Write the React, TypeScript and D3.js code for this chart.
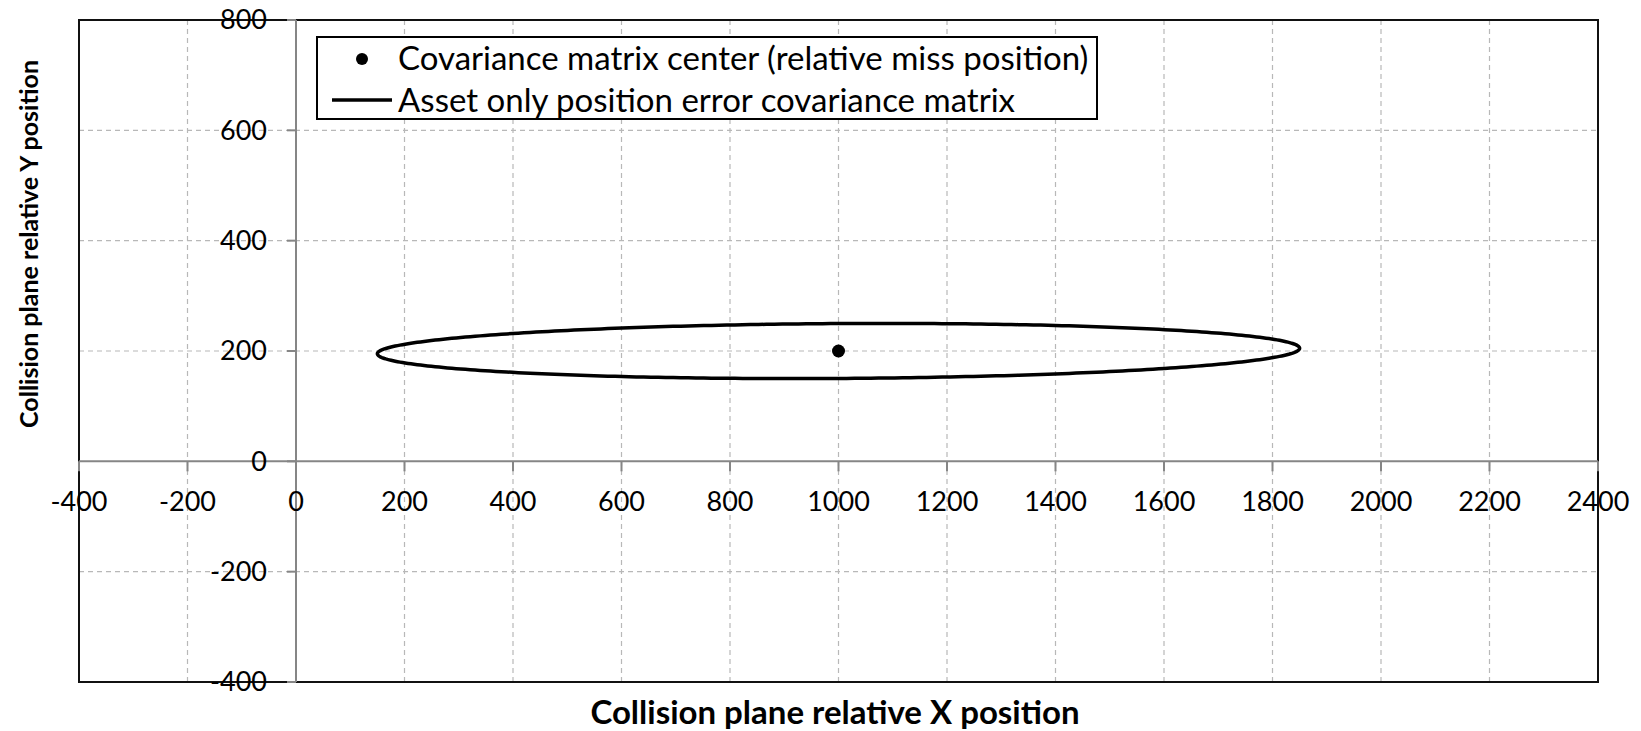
import React from "react";
import * as d3 from "d3";

const xTicks = [-400, -200, 0, 200, 400, 600, 800, 1000, 1200, 1400, 1600, 1800, 2000, 2200, 2400];
const yTicks = [-400, -200, 0, 200, 400, 600, 800];
const centerPoint = [{ x: 1000, y: 200 }];
// covariance ellipse parameters: center, semi-extent in X and Y, correlation
const ellipseCenter = [1000, 200];
const ellipseExtent = [850, 50];
const ellipseCorrelation = [0.1];
const legendLabels = [
  "Covariance matrix center (relative miss position)",
  "Asset only position error covariance matrix",
];
const xTitle = "Collision plane relative X position";
const yTitle = "Collision plane relative Y position";

const W = 1641;
const H = 731;
const FONT = "Lato, 'Open Sans', sans-serif";

export default function App() {
  const x = d3.scaleLinear().domain([-400, 2400]).range([79, 1598]);
  const y = d3.scaleLinear().domain([-400, 800]).range([682, 20]);

  const [cx, cy] = ellipseCenter;
  const [a, b] = ellipseExtent;
  const rho = ellipseCorrelation[0];
  const pts = d3.range(0, 360, 1).map((deg) => {
    const t = (deg * Math.PI) / 180;
    return [cx + a * Math.cos(t), cy + b * (rho * Math.cos(t) + Math.sqrt(1 - rho * rho) * Math.sin(t))];
  });
  const line = d3
    .line<number[]>()
    .x((d) => x(d[0]))
    .y((d) => y(d[1]))
    .curve(d3.curveLinearClosed);

  const x0 = x(0);
  const y0 = y(0);
  const gridColor = "#b8b8b8";
  const axisColor = "#868686";

  return (
    <svg width={W} height={H} style={{ position: "absolute", left: 0, top: 0, background: "#fff" }} fontFamily={FONT}>
      <rect x={0} y={0} width={W} height={H} fill="#fff" />
      {/* grid */}
      {xTicks
        .filter((v) => v !== 0 && v !== -400 && v !== 2400)
        .map((v) => (
          <line key={"gx" + v} x1={x(v)} x2={x(v)} y1={y(800)} y2={y(-400)} stroke={gridColor} strokeWidth={1.2} strokeDasharray="5,4" />
        ))}
      {yTicks
        .filter((v) => v !== 0 && v !== -400 && v !== 800)
        .map((v) => (
          <line key={"gy" + v} x1={x(-400)} x2={x(2400)} y1={y(v)} y2={y(v)} stroke={gridColor} strokeWidth={1.2} strokeDasharray="5,4" />
        ))}
      {/* border */}
      <rect x={x(-400)} y={y(800)} width={x(2400) - x(-400)} height={y(-400) - y(800)} fill="none" stroke="#111" strokeWidth={2} />
      {/* axes */}
      <line x1={x(-400)} x2={x(2400)} y1={y0} y2={y0} stroke={axisColor} strokeWidth={2} />
      <line x1={x0} x2={x0} y1={y(800)} y2={y(-400)} stroke={axisColor} strokeWidth={2} />
      {xTicks.map((v) => (
        <line key={"tx" + v} x1={x(v)} x2={x(v)} y1={y0} y2={y0 + 10} stroke={axisColor} strokeWidth={2} />
      ))}
      {yTicks.map((v) => (
        <line key={"ty" + v} x1={x0 - 9} x2={x0} y1={y(v)} y2={y(v)} stroke={axisColor} strokeWidth={2} />
      ))}
      {/* ellipse */}
      <path d={line(pts) || ""} fill="none" stroke="#000" strokeWidth={3.5} />
      {centerPoint.map((p, i) => (
        <circle key={i} cx={x(p.x)} cy={y(p.y)} r={6.5} fill="#000" />
      ))}
      {/* tick labels */}
      {xTicks.map((v) => (
        <text key={"lx" + v} x={x(v)} y={y0 + 50} textAnchor="middle" fontSize={27} fill="#000">
          {v}
        </text>
      ))}
      {yTicks.map((v) => (
        <text key={"ly" + v} x={x0 - 29} y={y(v)} dy="0.35em" textAnchor="end" fontSize={27} fill="#000">
          {v}
        </text>
      ))}
      {/* titles */}
      <text x={835} y={724} textAnchor="middle" fontSize={33} fontWeight="bold" fill="#000">
        {xTitle}
      </text>
      <text transform={`translate(38,244) rotate(-90)`} textAnchor="middle" fontSize={25} fontWeight="bold" fill="#000">
        {yTitle}
      </text>
      {/* legend */}
      <rect x={317} y={37} width={780} height={82} fill="#fff" stroke="#000" strokeWidth={2} />
      <circle cx={362} cy={59} r={6} fill="#000" />
      <line x1={332} x2={392} y1={100} y2={100} stroke="#000" strokeWidth={3.5} />
      {legendLabels.map((t, i) => (
        <text key={t} x={398} y={i === 0 ? 58 : 100} dy="0.35em" fontSize={33} fill="#000">
          {t}
        </text>
      ))}
    </svg>
  );
}
